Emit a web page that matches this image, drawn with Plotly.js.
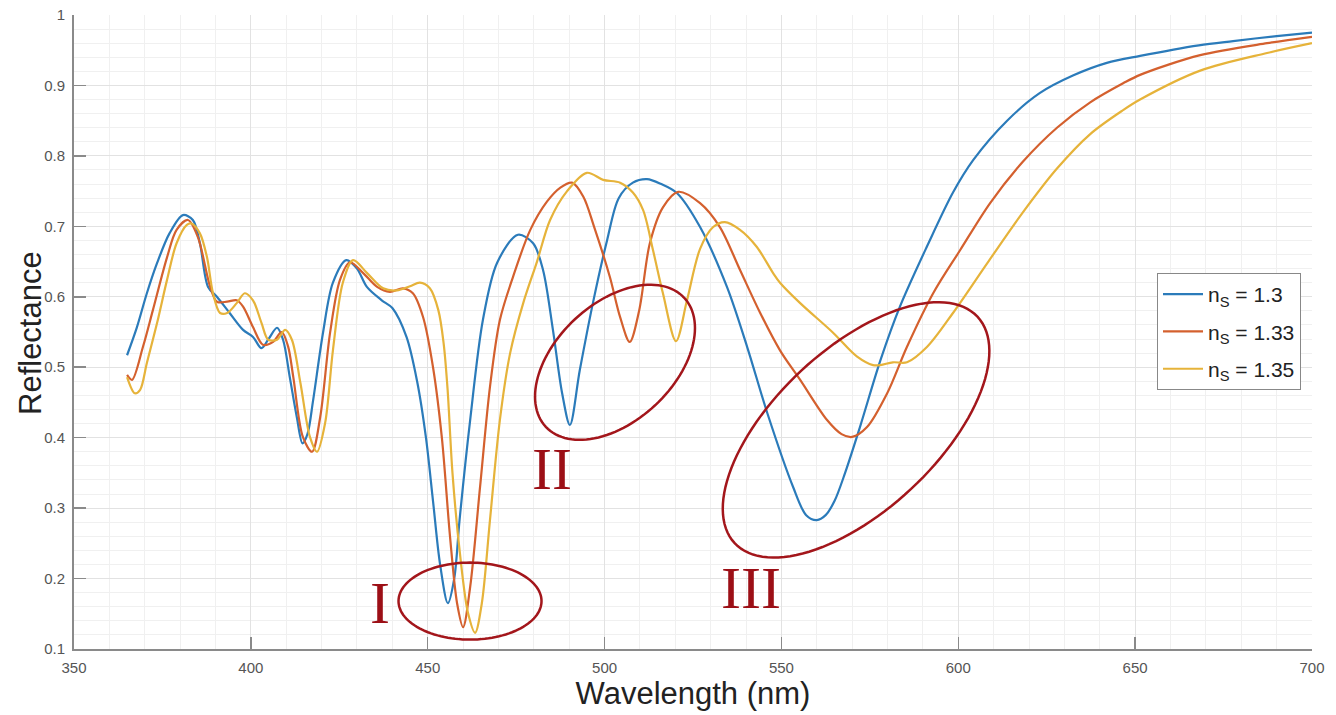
<!DOCTYPE html>
<html>
<head>
<meta charset="utf-8">
<script src="https://cdn.plot.ly/plotly-3.0.1.min.js"></script>
<style>
html,body{margin:0;padding:0;background:#fff;}
#chart{width:1336px;height:715px;}
</style>
</head>
<body>
<div id="chart"></div>
<script>
// ---- data ----
const seriesNames = ['n<sub>S</sub> = 1.3', 'n<sub>S</sub> = 1.33', 'n<sub>S</sub> = 1.35'];

const wl13 = [365,367.8,370.6,373.5,377,380.8,383.6,385.6,387.9,390.4,394,397.8,400.6,403,405,407.4,409.1,411,413,414.6,416,417.6,420.4,423.2,427,430,432.8,437,440,444,447,449.5,451.5,453.5,455.7,457.5,459,462,465.6,469.6,475.5,479.8,482.6,485.4,488,490.2,493,496.7,500.7,504,508,512,516,520.5,527,534.6,540.3,546,553.3,557,560,562.5,565,568,572.2,578,583.5,591.2,598.5,604.2,613.8,623,632.4,642,651.4,668,677.7,690,700];
const r13  = [0.517,0.557,0.605,0.648,0.69,0.716,0.709,0.676,0.614,0.6,0.577,0.553,0.543,0.527,0.54,0.556,0.539,0.486,0.429,0.392,0.405,0.453,0.549,0.62,0.652,0.64,0.614,0.595,0.584,0.543,0.48,0.40,0.31,0.22,0.165,0.2,0.283,0.425,0.567,0.648,0.688,0.676,0.638,0.553,0.463,0.418,0.496,0.591,0.68,0.74,0.762,0.767,0.76,0.747,0.699,0.614,0.529,0.435,0.33,0.29,0.283,0.29,0.31,0.35,0.415,0.51,0.586,0.672,0.748,0.794,0.85,0.889,0.914,0.932,0.942,0.957,0.963,0.970,0.975];

const wl133 = [365,366.4,369.5,372.3,376.3,379,382.2,385,388.5,390.4,393.3,396,397.8,400.6,403.4,406.3,408.7,410.5,412,414.7,417.3,419.6,422.4,425.2,428,431.7,435.7,439.3,443,445.8,448.7,451.5,454,456.3,458.3,460,462,464.8,467.6,470.4,474.1,479,483.7,487.5,490.8,494,497,501.5,504.4,507.1,509.8,512.8,516.5,520.8,527,532.6,538.3,544,549.6,555.3,562.9,567,570,574.2,579.9,585.5,592.9,600.5,609,618.3,627.9,637.3,646.6,651.4,668.4,687.3,700];
const r133  = [0.489,0.482,0.529,0.581,0.656,0.695,0.709,0.685,0.614,0.593,0.593,0.595,0.586,0.557,0.532,0.536,0.55,0.53,0.486,0.401,0.38,0.429,0.549,0.624,0.649,0.634,0.614,0.607,0.612,0.605,0.571,0.50,0.40,0.26,0.165,0.131,0.188,0.33,0.472,0.567,0.628,0.695,0.735,0.755,0.762,0.742,0.70,0.628,0.571,0.536,0.581,0.676,0.727,0.749,0.733,0.699,0.638,0.577,0.524,0.482,0.425,0.405,0.401,0.415,0.463,0.529,0.605,0.666,0.733,0.792,0.84,0.876,0.903,0.915,0.943,0.96,0.969];

const wl135 = [365,367.2,368.7,370.6,373.5,376.3,379,381.9,383.2,385.6,387.6,389.3,391.3,393.3,396,398.3,400.6,403,404.9,407.4,409.7,411.6,414,416.7,418.7,421,423.2,426,428.9,432.8,437.4,441.3,445,447.8,450.6,453,454.5,455.6,457,459.1,461.4,463.4,465.3,467.6,470.4,473.3,477,480.9,484.6,489.4,495,499.6,504.4,508,510.9,513.7,516.5,520.2,523.3,527,530.7,534,538.3,543,547.6,549.6,555.3,564.6,571.4,575.9,578,581.5,585.5,591.2,598.5,608.5,618,627.9,637.3,646.6,651.4,668.4,687.3,700];
const r135  = [0.486,0.463,0.468,0.506,0.563,0.624,0.676,0.702,0.704,0.69,0.656,0.605,0.577,0.577,0.591,0.605,0.595,0.563,0.539,0.539,0.553,0.539,0.478,0.401,0.38,0.421,0.524,0.62,0.652,0.634,0.612,0.609,0.615,0.62,0.612,0.581,0.534,0.47,0.35,0.236,0.151,0.123,0.165,0.283,0.425,0.52,0.591,0.65,0.709,0.75,0.776,0.766,0.762,0.748,0.723,0.666,0.605,0.537,0.595,0.668,0.699,0.706,0.695,0.671,0.634,0.620,0.591,0.549,0.515,0.503,0.503,0.507,0.507,0.529,0.577,0.65,0.718,0.782,0.831,0.865,0.88,0.921,0.946,0.96];

const colors = ['#2b7bba', '#d4602e', '#e6b33a'];

// region labels and their marker ellipses (centre in data units, semi-axes in px, tilt in degrees)
const regionLabels = ['I', 'II', 'III'];
const labelWl = [436.5, 485.1, 541.4];
const labelR  = [0.166, 0.356, 0.186];
const ellWl = [461.96, 502.95, 571.1];
const ellR  = [0.168, 0.507, 0.411];
const ellA  = [71.5, 94.6, 166];
const ellB  = [38.5, 58.8, 80.7];
const ellTilt = [0, 43, 43];

// ---- layout geometry ----
const W = 1336, H = 715;
const margin = {l: 74, r: 24, t: 15, b: 66};
const xRange = [350, 700], yRange = [0.1, 1];
const plotW = W - margin.l - margin.r, plotH = H - margin.t - margin.b;
const pxPerX = plotW / (xRange[1] - xRange[0]);
const pxPerY = plotH / (yRange[1] - yRange[0]);

function ellipsePath(cx, cy, a, b, deg) {
  const th = deg * Math.PI / 180;
  let d = '';
  const n = 120;
  for (let i = 0; i <= n; i++) {
    const t = 2 * Math.PI * i / n;
    const dx = a * Math.cos(t) * Math.cos(th) - b * Math.sin(t) * Math.sin(th);
    const dy = a * Math.cos(t) * Math.sin(th) + b * Math.sin(t) * Math.cos(th);
    const x = cx + dx / pxPerX;
    const y = cy + dy / pxPerY;
    d += (i === 0 ? 'M' : 'L') + x.toFixed(4) + ',' + y.toFixed(5);
  }
  return d + 'Z';
}

const xs = [wl13, wl133, wl135];
const ys = [r13, r133, r135];
const traces = xs.map((x, i) => ({
  x: x, y: ys[i], type: 'scatter', mode: 'lines', name: seriesNames[i],
  legendgroup: 'g' + i,
  line: {color: colors[i], width: 2.2, shape: 'spline', smoothing: 0.9}
}));

const shapes = ellWl.map((cx, i) => ({
  type: 'path', xref: 'x', yref: 'y',
  path: ellipsePath(cx, ellR[i], ellA[i], ellB[i], ellTilt[i]),
  line: {color: '#a3161b', width: 2.5}, fillcolor: 'rgba(0,0,0,0)', layer: 'above'
}));

const sansTitle = {family: 'Liberation Sans, Arial, sans-serif', size: 31, color: '#222'};

const annotations = regionLabels.map((t, i) => ({
  text: t, x: labelWl[i], y: labelR[i], xref: 'x', yref: 'y', showarrow: false,
  font: {family: 'Liberation Serif, Times New Roman, serif', size: 60, color: '#9c0f16'},
  xanchor: 'center', yanchor: 'middle'
}));
// y-axis title placed as a rotated label in the left margin
annotations.push({
  text: 'Reflectance', xref: 'paper', yref: 'paper',
  x: (30 - margin.l) / plotW, y: (H - margin.b - 333) / plotH,
  xanchor: 'center', yanchor: 'middle', textangle: -90, showarrow: false,
  font: sansTitle
});

const tickFont = {family: 'Liberation Sans, Arial, sans-serif', size: 15, color: '#555'};
const layout = {
  width: W, height: H, margin: margin,
  paper_bgcolor: '#fff', plot_bgcolor: '#fff',
  showlegend: true,
  legend: {
    x: (1301 - margin.l) / plotW, xanchor: 'right',
    y: (H - margin.b - 273) / plotH, yanchor: 'top',
    bgcolor: '#fff', bordercolor: '#888', borderwidth: 1,
    font: {family: 'Liberation Sans, Arial, sans-serif', size: 21, color: '#222'},
    itemwidth: 40, tracegroupgap: 7
  },
  xaxis: {
    range: xRange, tick0: 350, dtick: 50, ticks: 'inside', ticklen: 12, tickwidth: 1.5, tickcolor: '#8a8a8a',
    showline: true, linecolor: '#8a8a8a', linewidth: 2, zeroline: false, mirror: false,
    showgrid: true, gridcolor: '#e2e2e2', gridwidth: 1,
    minor: {dtick: 10, showgrid: true, gridcolor: '#f0f0f0', gridwidth: 1, ticks: ''},
    tickfont: tickFont, ticklabelstandoff: 4,
    title: {text: 'Wavelength (nm)', font: sansTitle, standoff: 6}
  },
  yaxis: {
    range: yRange, tick0: 0.1, dtick: 0.1, ticks: 'inside', ticklen: 12, tickwidth: 1.5, tickcolor: '#8a8a8a',
    showline: true, linecolor: '#8a8a8a', linewidth: 2, zeroline: false, mirror: false,
    showgrid: true, gridcolor: '#e2e2e2', gridwidth: 1,
    minor: {dtick: 0.02, showgrid: true, gridcolor: '#f0f0f0', gridwidth: 1, ticks: ''},
    tickfont: tickFont, ticklabelstandoff: 4
  },
  shapes: shapes,
  annotations: annotations
};

Plotly.newPlot('chart', traces, layout, {staticPlot: true, displayModeBar: false});
</script>
</body>
</html>
